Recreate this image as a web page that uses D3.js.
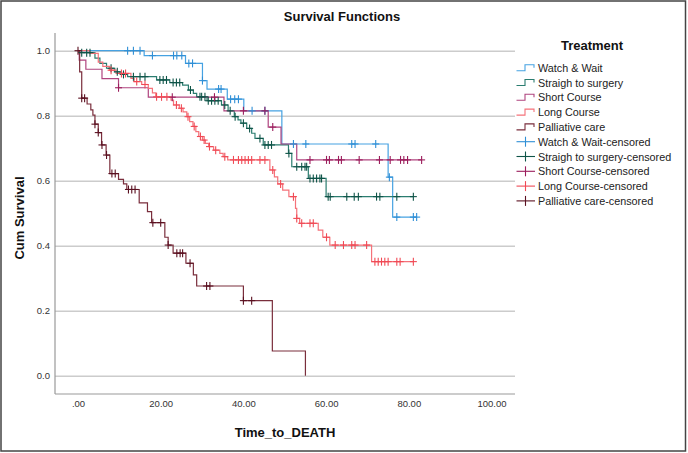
<!DOCTYPE html>
<html>
<head>
<meta charset="utf-8">
<script src="https://cdn.jsdelivr.net/npm/d3@7"></script>
<style>
  html, body { margin: 0; padding: 0; background: #fff; }
  svg { display: block; font-family: "Liberation Sans", Arial, sans-serif; }
</style>
</head>
<body>
<svg id="chart" width="688" height="453"></svg>
<script>
// ---------------- DATA ----------------
const groups = ["Watch & Wait", "Straigh to surgery", "Short Course", "Long Course", "Palliative care"];
const xTicks = [0, 20, 40, 60, 80, 100];
const yTicks = [0, 0.2, 0.4, 0.6, 0.8, 1.0];

// Watch & Wait
const wwTimes = [0, 16.0, 26.0, 30.1, 31.2, 36.1, 40.1, 49.3, 75.0, 76.1];
const wwSurv  = [1.0, 0.985, 0.961, 0.908, 0.882, 0.851, 0.815, 0.713, 0.611, 0.488];
const wwCens  = [12.0, 13.4, 15.0, 18.0, 23.1, 23.9, 25.1, 26.8, 27.7, 30.1, 34.0, 34.6, 36.9, 37.9, 38.8, 42.1, 45.2, 52.1, 55.1, 66.2, 67.0, 72.0, 75.3, 77.1, 81.1, 81.9];

// Straigh to surgery
const stTimes = [0, 0.3, 4.1, 5.3, 6.9, 8.9, 10.2, 12.0, 19.0, 22.2, 25.3, 26.7, 27.9, 28.7, 31.2, 34.7, 36.3, 37.8, 38.7, 39.4, 40.8, 42.0, 42.8, 44.8, 50.9, 51.7, 55.7, 60.0];
const stSurv  = [1, 0.994, 0.977, 0.961, 0.946, 0.935, 0.927, 0.920, 0.910, 0.902, 0.894, 0.879, 0.869, 0.858, 0.846, 0.833, 0.815, 0.797, 0.787, 0.777, 0.761, 0.746, 0.730, 0.710, 0.684, 0.643, 0.607, 0.551];
const stCens  = [0.9, 2.1, 2.9, 8.0, 9.5, 11.0, 13.4, 15.0, 16.2, 19.8, 20.6, 21.4, 23.0, 23.8, 24.6, 27.2, 29.5, 29.9, 30.7, 31.5, 32.3, 33.1, 33.9, 35.5, 36.8, 38.0, 40.0, 41.5, 44.0, 45.2, 46.0, 46.8, 51.0, 52.9, 54.1, 54.9, 55.3, 56.1, 56.9, 57.7, 58.5, 58.9, 60.5, 61.0, 65.0, 66.8, 67.8, 72.2, 73.0, 77.1, 81.1];

// Short Course
const scTimes = [0, 0.3, 1.9, 5.8, 9.8, 17.0, 35.3, 46.0, 49.1, 52.9];
const scSurv  = [1, 0.971, 0.943, 0.914, 0.886, 0.857, 0.815, 0.765, 0.713, 0.664];
const scCens  = [9.8, 22.8, 33.0, 40.0, 45.2, 47.1, 56.1, 60.1, 60.8, 63.0, 63.7, 68.0, 72.9, 75.5, 78.0, 78.8, 79.7, 83.1];

// Long Course
const lcTimes = [0, 2.8, 4.9, 6.0, 7.6, 9.2, 12.8, 13.6, 15.4, 17.0, 18.0, 18.8, 22.5, 23.1, 24.5, 25.4, 26.3, 27.0, 27.8, 28.5, 29.2, 30.1, 30.8, 31.6, 32.8, 34.3, 35.1, 36.2, 46.4, 47.5, 48.3, 49.5, 51.0, 52.6, 52.9, 53.6, 58.1, 59.2, 60.9, 71.0];
const lcSurv  = [1, 0.992, 0.965, 0.952, 0.940, 0.930, 0.915, 0.905, 0.896, 0.884, 0.870, 0.858, 0.848, 0.833, 0.823, 0.812, 0.797, 0.782, 0.767, 0.751, 0.736, 0.725, 0.715, 0.705, 0.694, 0.684, 0.674, 0.664, 0.633, 0.612, 0.590, 0.571, 0.551, 0.515, 0.484, 0.469, 0.448, 0.426, 0.402, 0.351];
const lcCens  = [8.0, 10.5, 11.5, 14.2, 16.2, 19.0, 20.2, 21.5, 23.8, 25.0, 26.6, 28.1, 29.6, 30.5, 31.8, 33.3, 35.5, 37.6, 38.8, 39.6, 40.4, 41.2, 42.0, 44.0, 45.2, 47.1, 49.0, 52.1, 52.9, 54.1, 56.1, 56.9, 60.1, 62.2, 64.2, 66.2, 67.0, 69.8, 71.8, 72.6, 73.4, 74.2, 75.0, 77.1, 77.9, 81.1];

// Palliative care
const pcTimes = [0, 0.4, 0.9, 2.2, 3.1, 3.6, 4.1, 4.9, 5.7, 6.8, 7.7, 9.8, 11.0, 11.8, 14.8, 16.8, 17.8, 21.0, 21.8, 23.0, 26.1, 27.9, 28.7, 40.0, 47.0, 55.0];
const pcSurv  = [1, 0.935, 0.854, 0.836, 0.818, 0.802, 0.774, 0.748, 0.710, 0.679, 0.622, 0.604, 0.590, 0.573, 0.532, 0.505, 0.471, 0.426, 0.402, 0.377, 0.346, 0.310, 0.276, 0.231, 0.076, 0.0];
const pcCens  = [0, 0.9, 1.6, 4.1, 4.9, 5.8, 6.9, 8.2, 9.0, 12.2, 13.0, 13.8, 18.1, 20.0, 21.8, 23.9, 24.7, 25.3, 27.1, 31.1, 31.9, 40.0, 42.0];

const lineColors = ["#46a2e2", "#2b7d70", "#b0447f", "#f5727a", "#7a2e3c"];
const censColors = ["#2f8fd6", "#0f5448", "#9b1d5c", "#f04a55", "#5a1020"];

// ---------------- BUILD ----------------
const series = [
  {name: groups[0], times: wwTimes, surv: wwSurv, cens: wwCens},
  {name: groups[1], times: stTimes, surv: stSurv, cens: stCens},
  {name: groups[2], times: scTimes, surv: scSurv, cens: scCens},
  {name: groups[3], times: lcTimes, surv: lcSurv, cens: lcCens},
  {name: groups[4], times: pcTimes, surv: pcSurv, cens: pcCens}
];

const svg = d3.select("#chart");
const x = d3.scaleLinear().domain([0, 100]).range([78, 491.5]);
const y = d3.scaleLinear().domain([0, 1]).range([375.7, 50.7]);
const plotLeft = 55, plotRight = 515, plotTop = 33, plotBottom = 394;

// outer frame
svg.append("rect").attr("x", 1).attr("y", 1).attr("width", 684.5).attr("height", 450)
  .attr("fill", "none").attr("stroke", "#444").attr("stroke-width", 1.5);

// title
svg.append("text").attr("x", 342).attr("y", 21).attr("text-anchor", "middle")
  .attr("font-size", 13).attr("font-weight", "bold").attr("fill", "#111").text("Survival Functions");

// grid lines via axis
const gridAxis = d3.axisLeft(y).tickValues(yTicks).tickSize(-(plotRight - plotLeft)).tickFormat("");
const grid = svg.append("g").attr("transform", `translate(${plotLeft},0)`).call(gridAxis);
grid.select(".domain").remove();
grid.selectAll("line").attr("stroke", "#cccccc").attr("stroke-width", 1.5);

// y axis labels
const yAxis = d3.axisLeft(y).tickValues(yTicks).tickSize(0).tickPadding(0).tickFormat(d3.format(".1f"));
const ya = svg.append("g").attr("transform", `translate(50,0)`).call(yAxis);
ya.select(".domain").remove();
ya.selectAll("text").attr("font-size", 9.5).attr("fill", "#333").attr("font-family", "Liberation Sans, Arial, sans-serif");

// x axis labels
const xAxis = d3.axisBottom(x).tickValues(xTicks).tickSize(0).tickPadding(0)
  .tickFormat(d => d === 0 ? ".00" : d.toFixed(2));
const xa = svg.append("g").attr("transform", `translate(0,400)`).call(xAxis);
xa.select(".domain").remove();
xa.selectAll("text").attr("font-size", 9.5).attr("fill", "#333").attr("font-family", "Liberation Sans, Arial, sans-serif");

// axis frame lines
svg.append("line").attr("x1", plotLeft).attr("x2", plotLeft).attr("y1", plotTop).attr("y2", plotBottom)
  .attr("stroke", "#999").attr("stroke-width", 1.2);
svg.append("line").attr("x1", plotLeft).attr("x2", plotRight).attr("y1", plotBottom).attr("y2", plotBottom)
  .attr("stroke", "#999").attr("stroke-width", 1.2);

// axis titles
svg.append("text").attr("transform", "translate(24,218) rotate(-90)").attr("text-anchor", "middle")
  .attr("font-size", 13).attr("font-weight", "bold").attr("fill", "#111").text("Cum Survival");
svg.append("text").attr("x", 285).attr("y", 437).attr("text-anchor", "middle")
  .attr("font-size", 13).attr("font-weight", "bold").attr("fill", "#111").text("Time_to_DEATH");

// survival curves
function survAt(s, t) {
  let v = s.surv[0];
  for (let i = 0; i < s.times.length; i++) { if (s.times[i] <= t) v = s.surv[i]; }
  return v;
}
const line = d3.line().x(d => x(d[0])).y(d => y(d[1])).curve(d3.curveStepAfter);
const curves = svg.append("g");
series.forEach((s, i) => {
  const pts = s.times.map((t, k) => [t, s.surv[k]]);
  const end = Math.max(d3.max(s.times), d3.max(s.cens));
  pts.push([end, s.surv[s.surv.length - 1]]);
  curves.append("path").attr("d", line(pts)).attr("fill", "none")
    .attr("stroke", lineColors[i]).attr("stroke-width", 1.2);
});
series.forEach((s, i) => {
  const g = curves.append("g").attr("stroke", censColors[i]).attr("stroke-width", 1.1);
  s.cens.forEach(t => {
    const cx = x(t), cy = y(survAt(s, t));
    g.append("line").attr("x1", cx - 3.5).attr("x2", cx + 3.5).attr("y1", cy).attr("y2", cy);
    g.append("line").attr("x1", cx).attr("x2", cx).attr("y1", cy - 4).attr("y2", cy + 4);
  });
});

// legend
const lg = svg.append("g");
lg.append("text").attr("x", 592).attr("y", 50).attr("text-anchor", "middle")
  .attr("font-size", 13).attr("font-weight", "bold").attr("fill", "#111").text("Treatment");
const legendItems = groups.map((g, i) => ({label: g, type: "step", color: lineColors[i]}))
  .concat(groups.map((g, i) => ({label: g + "-censored", type: "cens", color: censColors[i]})));
legendItems.forEach((it, k) => {
  const cy = 67.7 + k * 14.8;
  if (it.type === "step") {
    lg.append("path").attr("d", `M516.5,${cy + 3} H525 V${cy - 3} H534 V${cy}`)
      .attr("fill", "none").attr("stroke", it.color).attr("stroke-width", 1.1);
  } else {
    lg.append("line").attr("x1", 516.5).attr("x2", 535).attr("y1", cy).attr("y2", cy).attr("stroke", it.color).attr("stroke-width", 1.1);
    lg.append("line").attr("x1", 525.5).attr("x2", 525.5).attr("y1", cy - 5).attr("y2", cy + 5).attr("stroke", it.color).attr("stroke-width", 1.1);
  }
  lg.append("text").attr("x", 538).attr("y", cy + 4).attr("font-size", 10.8).attr("fill", "#222").text(it.label);
});
</script>
</body>
</html>
